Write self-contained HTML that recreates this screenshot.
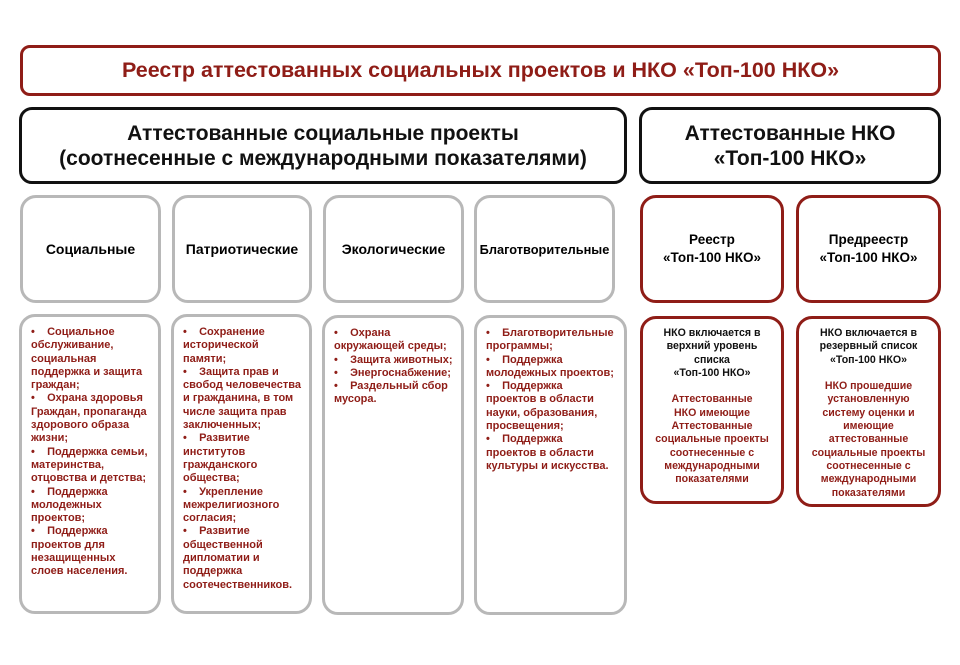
<!DOCTYPE html>
<html><head><meta charset="utf-8"><style>
body{margin:0;width:960px;height:665px;background:#fff;position:relative;overflow:hidden;font-family:"Liberation Sans","DejaVu Sans",sans-serif;font-weight:bold}
.b{position:absolute;box-sizing:border-box;background:#fff}
.t{border:3px solid #8f1d17;border-radius:10px}
.k{border:3px solid #111;border-radius:13px}
.g{border:3px solid #b8b8b8;border-radius:16px}
.r{border:3px solid #8f1d17;border-radius:16px}
.c{display:flex;align-items:center;justify-content:center;text-align:center}
.l{font-size:11px;line-height:13.3px;color:#8f1d17;padding:9px 0 0 9px;white-space:nowrap}
.rc{font-size:10.6px;line-height:13.3px;text-align:center;white-space:nowrap;padding-top:8px}
.blk{color:#111}.red{color:#8f1d17}
</style></head><body>
<div class="b t c" style="left:20px;top:45px;width:921px;height:51px;color:#8f1d17;font-size:21.5px">Реестр аттестованных социальных проектов и НКО «Топ-100 НКО»</div>
<div class="b k c" style="left:19px;top:107px;width:608px;height:77px;font-size:21px;line-height:25px;color:#111">Аттестованные социальные проекты<br>(соотнесенные с международными показателями)</div>
<div class="b k c" style="left:639px;top:107px;width:302px;height:77px;font-size:21px;line-height:25px;color:#111">Аттестованные НКО<br>«Топ-100 НКО»</div>

<div class="b g c" style="left:20px;top:195px;width:141px;height:108px;font-size:14px">Социальные</div>
<div class="b g c" style="left:172px;top:195px;width:140px;height:108px;font-size:14px">Патриотические</div>
<div class="b g c" style="left:323px;top:195px;width:141px;height:108px;font-size:14px">Экологические</div>
<div class="b g c" style="left:474px;top:195px;width:141px;height:108px;font-size:12.8px">Благотворительные</div>
<div class="b r c" style="left:640px;top:195px;width:144px;height:108px;font-size:13.5px;line-height:18px">Реестр<br>«Топ-100 НКО»</div>
<div class="b r c" style="left:796px;top:195px;width:145px;height:108px;font-size:13.5px;line-height:18px">Предреестр<br>«Топ-100 НКО»</div>

<div class="b g l" style="left:19px;top:314px;width:142px;height:300px">•&nbsp;&nbsp;&nbsp;&nbsp;Социальное<br>обслуживание,<br>социальная<br>поддержка и защита<br>граждан;<br>•&nbsp;&nbsp;&nbsp;&nbsp;Охрана здоровья<br>Граждан, пропаганда<br>здорового образа<br>жизни;<br>•&nbsp;&nbsp;&nbsp;&nbsp;Поддержка семьи,<br>материнства,<br>отцовства и детства;<br>•&nbsp;&nbsp;&nbsp;&nbsp;Поддержка<br>молодежных<br>проектов;<br>•&nbsp;&nbsp;&nbsp;&nbsp;Поддержка<br>проектов для<br>незащищенных<br>слоев населения.</div>
<div class="b g l" style="left:171px;top:314px;width:141px;height:300px">•&nbsp;&nbsp;&nbsp;&nbsp;Сохранение<br>исторической<br>памяти;<br>•&nbsp;&nbsp;&nbsp;&nbsp;Защита прав и<br>свобод человечества<br>и гражданина, в том<br>числе защита прав<br>заключенных;<br>•&nbsp;&nbsp;&nbsp;&nbsp;Развитие<br>институтов<br>гражданского<br>общества;<br>•&nbsp;&nbsp;&nbsp;&nbsp;Укрепление<br>межрелигиозного<br>согласия;<br>•&nbsp;&nbsp;&nbsp;&nbsp;Развитие<br>общественной<br>дипломатии и<br>поддержка<br>соотечественников.</div>
<div class="b g l" style="left:322px;top:315px;width:142px;height:300px">•&nbsp;&nbsp;&nbsp;&nbsp;Охрана<br>окружающей среды;<br>•&nbsp;&nbsp;&nbsp;&nbsp;Защита животных;<br>•&nbsp;&nbsp;&nbsp;&nbsp;Энергоснабжение;<br>•&nbsp;&nbsp;&nbsp;&nbsp;Раздельный сбор<br>мусора.</div>
<div class="b g l" style="left:474px;top:315px;width:153px;height:300px">•&nbsp;&nbsp;&nbsp;&nbsp;Благотворительные<br>программы;<br>•&nbsp;&nbsp;&nbsp;&nbsp;Поддержка<br>молодежных проектов;<br>•&nbsp;&nbsp;&nbsp;&nbsp;Поддержка<br>проектов в области<br>науки, образования,<br>просвещения;<br>•&nbsp;&nbsp;&nbsp;&nbsp;Поддержка<br>проектов в области<br>культуры и искусства.</div>

<div class="b r rc" style="left:640px;top:316px;width:144px;height:188px"><span class="blk">НКО включается в<br>верхний уровень<br>списка<br>«Топ-100 НКО»</span><br><br><span class="red">Аттестованные<br>НКО имеющие<br>Аттестованные<br>социальные проекты<br>соотнесенные с<br>международными<br>показателями</span></div>
<div class="b r rc" style="left:796px;top:316px;width:145px;height:191px"><span class="blk">НКО включается в<br>резервный список<br>«Топ-100 НКО»</span><br><br><span class="red">НКО прошедшие<br>установленную<br>систему оценки и<br>имеющие<br>аттестованные<br>социальные проекты<br>соотнесенные с<br>международными<br>показателями</span></div>
</body></html>
